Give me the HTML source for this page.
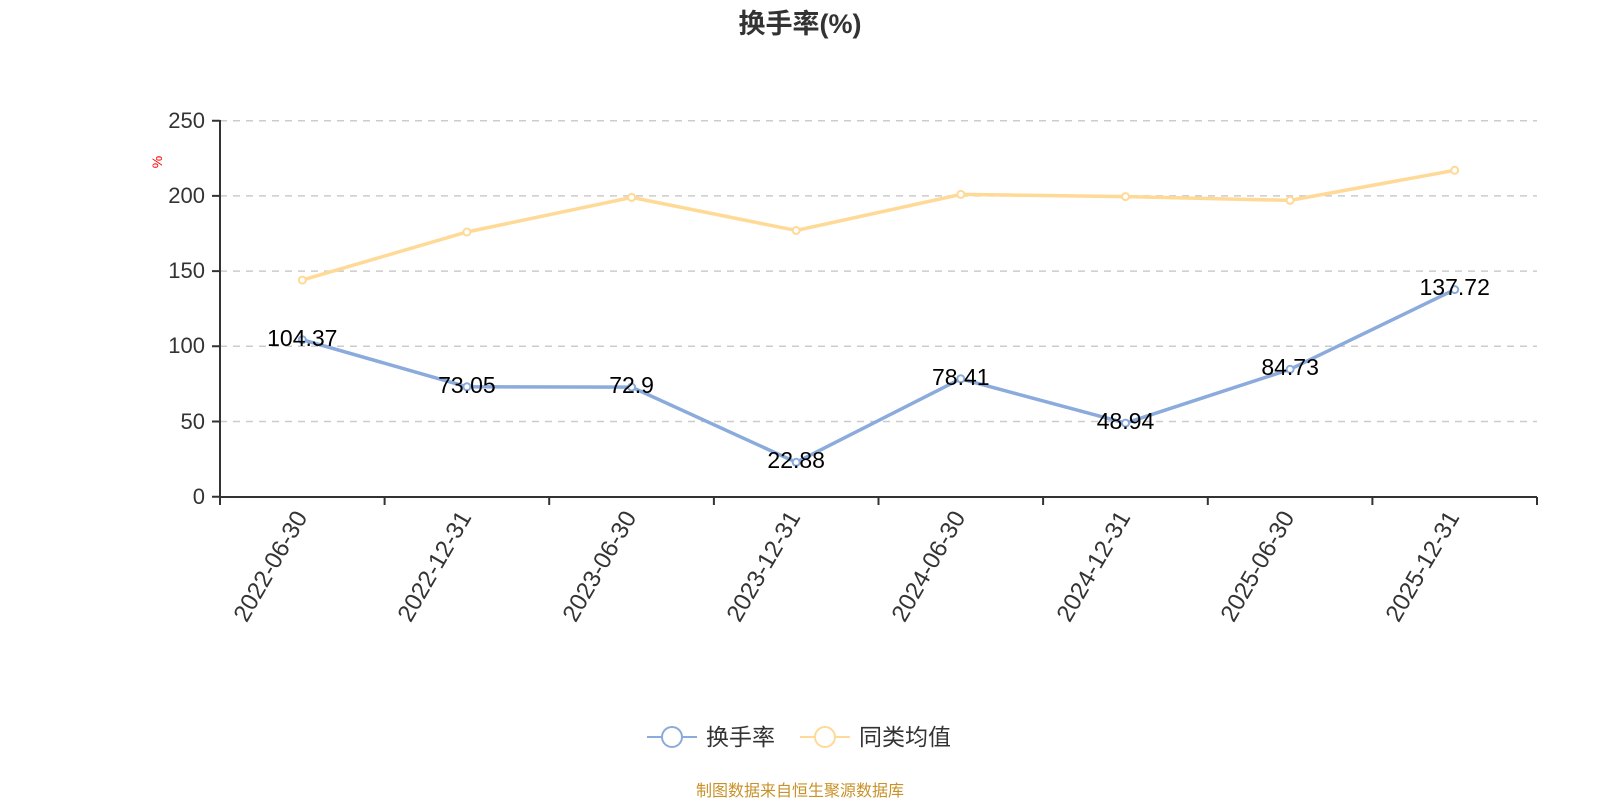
<!DOCTYPE html>
<html><head><meta charset="utf-8"><style>body{margin:0;background:#fff}</style></head><body>
<svg width="1600" height="800" xmlns="http://www.w3.org/2000/svg" font-family="'Liberation Sans','Noto Sans CJK SC',sans-serif">
<text x="800" y="33" text-anchor="middle" font-size="27" font-weight="bold" fill="#333">换手率(%)</text>
<text x="162" y="162" font-size="14" fill="red" transform="rotate(-90 162 162)" text-anchor="middle">%</text>
<g stroke="#ccc" stroke-width="1.5" stroke-dasharray="7,6">
<line x1="220" x2="1537" y1="120.7" y2="120.7"/><line x1="220" x2="1537" y1="195.9" y2="195.9"/>
<line x1="220" x2="1537" y1="271.1" y2="271.1"/><line x1="220" x2="1537" y1="346.3" y2="346.3"/>
<line x1="220" x2="1537" y1="421.5" y2="421.5"/></g>
<g stroke="#333" stroke-width="2" fill="none">
<line x1="220" y1="120" x2="220" y2="497"/><line x1="220" y1="497" x2="1537" y2="497"/>
<path d="M212 120.7h8M212 195.9h8M212 271.1h8M212 346.3h8M212 421.5h8M212 496.7h8"/>
<path d="M220 497v8M384.6 497v8M549.2 497v8M713.9 497v8M878.5 497v8M1043.1 497v8M1207.8 497v8M1372.4 497v8M1537 497v8"/></g>
<g font-size="22" fill="#333" text-anchor="end">
<text x="205" y="128">250</text><text x="205" y="203">200</text><text x="205" y="278">150</text>
<text x="205" y="353">100</text><text x="205" y="429">50</text><text x="205" y="504">0</text></g>
<g font-size="24" fill="#333" text-anchor="end">
<text transform="translate(308 517) rotate(-60)">2022-06-30</text>
<text transform="translate(472 517) rotate(-60)">2022-12-31</text>
<text transform="translate(637 517) rotate(-60)">2023-06-30</text>
<text transform="translate(801 517) rotate(-60)">2023-12-31</text>
<text transform="translate(966 517) rotate(-60)">2024-06-30</text>
<text transform="translate(1131 517) rotate(-60)">2024-12-31</text>
<text transform="translate(1295 517) rotate(-60)">2025-06-30</text>
<text transform="translate(1460 517) rotate(-60)">2025-12-31</text></g>
<polyline fill="none" stroke="#ffd996" stroke-width="3.5" points="302.3,280.1 466.9,232 631.6,197.4 796.2,230.5 960.8,194.4 1125.5,196.6 1290.1,200.4 1454.7,170.3"/>
<g fill="#fff" stroke="#ffd996" stroke-width="2">
<circle cx="302.3" cy="280.1" r="3.5"/><circle cx="466.9" cy="232" r="3.5"/><circle cx="631.6" cy="197.4" r="3.5"/><circle cx="796.2" cy="230.5" r="3.5"/><circle cx="960.8" cy="194.4" r="3.5"/><circle cx="1125.5" cy="196.6" r="3.5"/><circle cx="1290.1" cy="200.4" r="3.5"/><circle cx="1454.7" cy="170.3" r="3.5"/></g>
<polyline fill="none" stroke="#8aabdb" stroke-width="3.5" points="302.3,339.7 466.9,386.8 631.6,387.1 796.2,462.3 960.8,378.8 1125.5,423.1 1290.1,369.3 1454.7,289.6"/>
<g fill="#fff" stroke="#8aabdb" stroke-width="2">
<circle cx="302.3" cy="339.7" r="3.5"/><circle cx="466.9" cy="386.8" r="3.5"/><circle cx="631.6" cy="387.1" r="3.5"/><circle cx="796.2" cy="462.3" r="3.5"/><circle cx="960.8" cy="378.8" r="3.5"/><circle cx="1125.5" cy="423.1" r="3.5"/><circle cx="1290.1" cy="369.3" r="3.5"/><circle cx="1454.7" cy="289.6" r="3.5"/></g>
<g font-size="23" fill="#000" text-anchor="middle">
<text x="302.3" y="346">104.37</text><text x="466.9" y="393">73.05</text><text x="631.6" y="393">72.9</text>
<text x="796.2" y="468">22.88</text><text x="960.8" y="385">78.41</text><text x="1125.5" y="429">48.94</text>
<text x="1290.1" y="375">84.73</text><text x="1454.7" y="295">137.72</text></g>
<line x1="647" y1="737" x2="697" y2="737" stroke="#8aabdb" stroke-width="2"/>
<circle cx="672" cy="737" r="10" fill="#fff" stroke="#8aabdb" stroke-width="2"/>
<text x="706" y="745" font-size="23" fill="#333">换手率</text>
<line x1="800" y1="737" x2="850" y2="737" stroke="#ffd996" stroke-width="2"/>
<circle cx="825" cy="737" r="10" fill="#fff" stroke="#ffd996" stroke-width="2"/>
<text x="859" y="745" font-size="23" fill="#333">同类均值</text>
<text x="800" y="796" text-anchor="middle" font-size="16" fill="#c8922a">制图数据来自恒生聚源数据库</text>
</svg>
</body></html>
